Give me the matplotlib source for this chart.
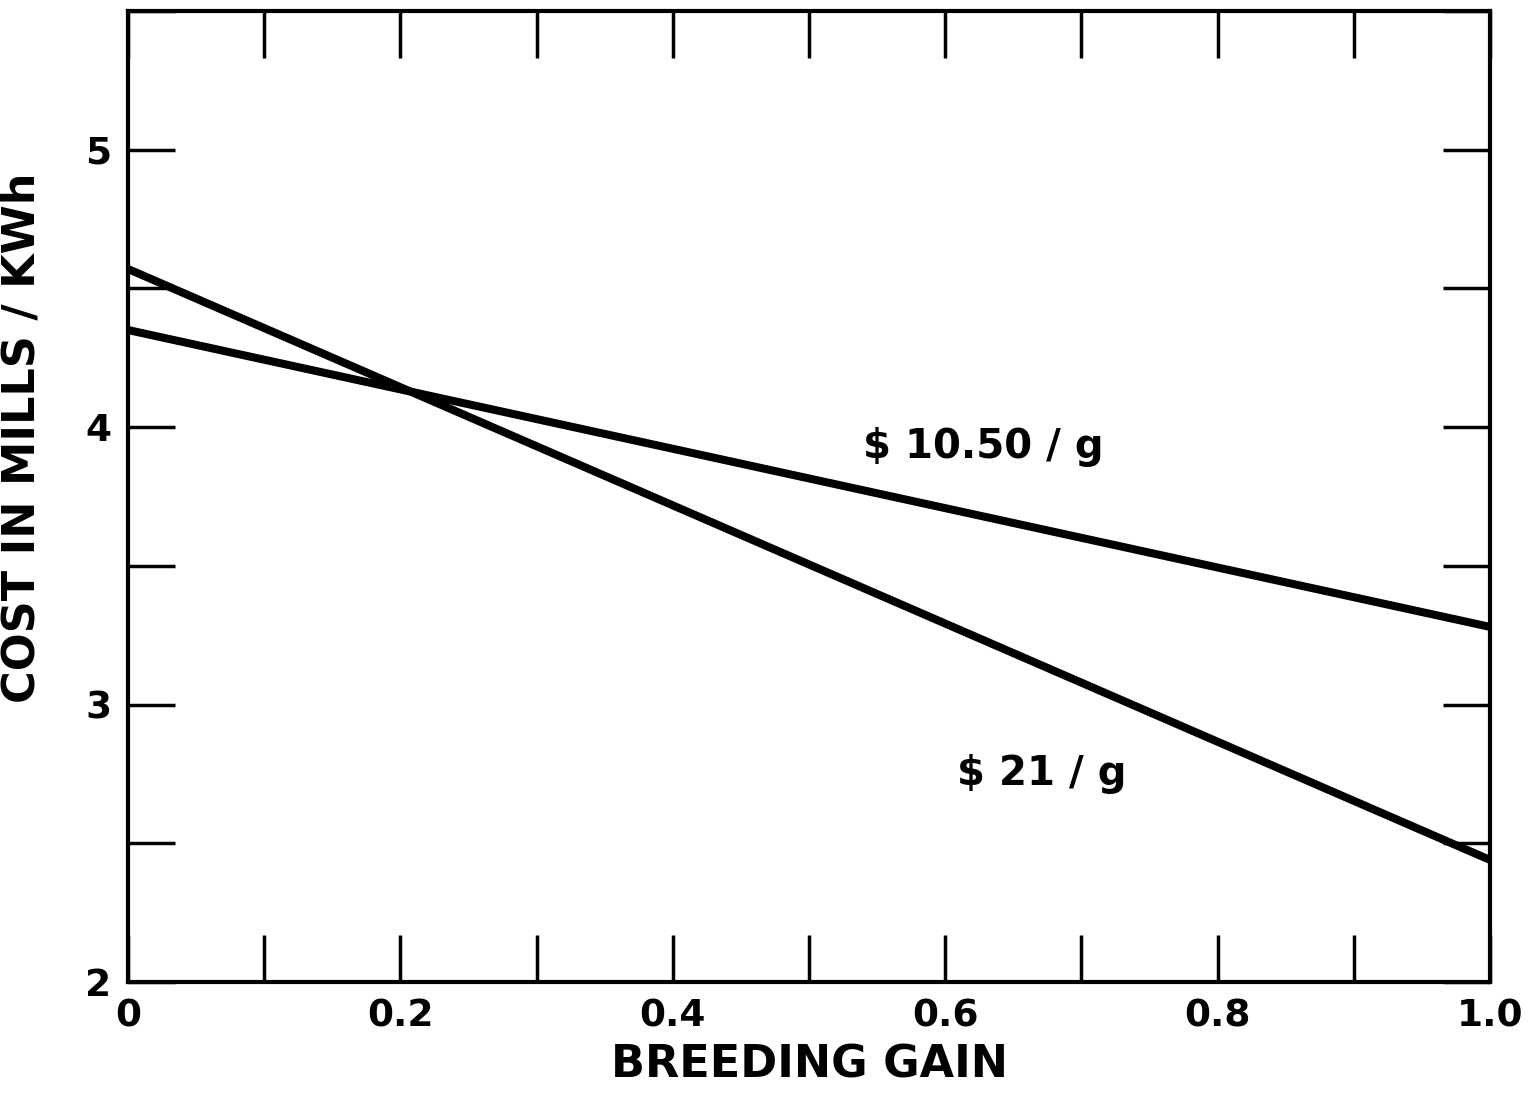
import matplotlib.pyplot as plt
from matplotlib.ticker import MultipleLocator

gain = [0.0, 1.0]
cost_10_50 = [4.35, 3.28]
cost_21 = [4.57, 2.44]

x_ticks = [0, 0.2, 0.4, 0.6, 0.8, 1.0]
x_tick_labels = ['0', '0.2', '0.4', '0.6', '0.8', '1.0']
y_ticks = [2, 3, 4, 5]

plt.rcParams['font.family'] = ['DejaVu Sans']
plt.rcParams['font.weight'] = 'bold'

fig = plt.figure(figsize=(15.35, 10.96), dpi=100)
ax = fig.add_axes([0.0834, 0.104, 0.8873, 0.886])

ax.plot(gain, cost_10_50, color='black', lw=5.8, solid_capstyle='butt')
ax.plot(gain, cost_21, color='black', lw=5.8, solid_capstyle='butt')

ax.text(0.628, 3.93, '\\$ 10.50 / g', fontsize=29, fontweight='bold',
        ha='center', va='center')
ax.text(0.671, 2.75, '\\$ 21 / g', fontsize=29, fontweight='bold',
        ha='center', va='center')

ax.set_xlim(0, 1.0)
ax.set_ylim(2, 5.5)
ax.set_xticks(x_ticks)
ax.set_xticklabels(x_tick_labels)
ax.set_yticks(y_ticks)
ax.xaxis.set_minor_locator(MultipleLocator(0.1))
ax.yaxis.set_minor_locator(MultipleLocator(0.5))

ax.tick_params(which='both', direction='in', top=True, right=True,
               length=34, width=2.5, labelsize=27, pad=12)
for lab in ax.get_xticklabels() + ax.get_yticklabels():
    lab.set_fontweight('bold')
for s in ax.spines.values():
    s.set_linewidth(3)

ax.set_xlabel('BREEDING GAIN', fontsize=32, fontweight='bold', labelpad=6)
ax.set_ylabel('COST IN MILLS / KWh', fontsize=32, fontweight='bold')
ax.yaxis.set_label_coords(-0.062, 0.56)

fig.savefig('out.png', dpi=100)
